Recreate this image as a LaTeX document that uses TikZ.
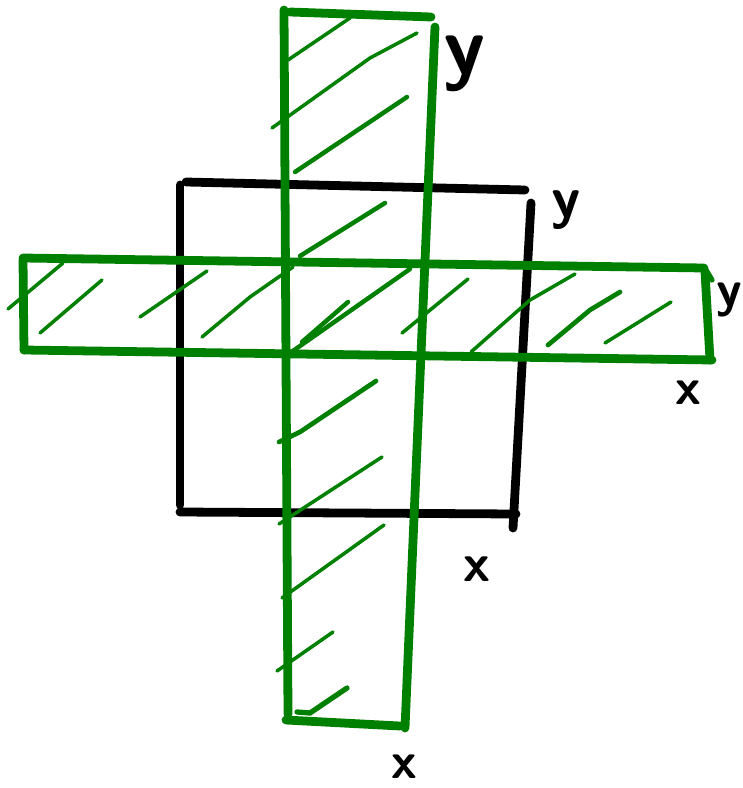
\documentclass[tikz,border=0pt]{standalone}
\definecolor{verde}{RGB}{0,128,0}
\tikzset{
  borde/.style={line width=7.5pt,line cap=round,line join=round},
  rayado/.style={verde,line width=3pt,line cap=round},
  letra/.style={font=\sffamily\bfseries\fontsize{#1}{#1}\selectfont,inner sep=0pt}
}
\begin{document}
\begin{tikzpicture}[x=0.03cm,y=-0.03cm]

	\useasboundingbox (0,0) rectangle (742,788);

	% Cuadrado negro
	\draw[borde] (186,182) -- (525,190);
	\draw[borde] (180,185) -- (180,505);
	\draw[borde] (180,512) -- (516,514);
	\draw[borde] (531,203) -- (513,528);

	% Franja vertical
	\draw[borde,verde] (284,10) -- (288,714);
	\draw[borde,verde] (290,12) -- (431,17);
	\draw[borde,verde] (435,27) -- (405,728);
	\draw[borde,verde] (286,720) -- (400,726);

	% Franja horizontal
	\draw[borde,verde] (23,258) -- (704,268);
	\draw[borde,verde] (23,260) -- (24,350);
	\draw[borde,verde] (24,350) -- (712,360);
	\draw[borde,verde] (705,272) -- (710,360);
	\draw[rayado,line width=4.5pt] (706,270) -- (712,280);

	% Rayado de la franja vertical
	\draw[rayado] (288,60) -- (350,18);
	\draw[rayado] (272,128) -- (370,58) -- (417,33);
	\draw[rayado,line width=3.8pt] (295,172) -- (407,97);
	\draw[rayado,line width=3.8pt] (300,256) -- (385,203);
	\draw[rayado,line width=4pt] (279,442) -- (300,432) -- (376,381);
	\draw[rayado] (279,524) -- (382,457);
	\draw[rayado] (282,598) -- (384,525);
	\draw[rayado] (277,671) -- (333,632);
	\draw[rayado,line width=4.5pt] (297,712) -- (310,713) -- (347,688);

	% Rayado de la franja horizontal
	\draw[rayado] (8,309) -- (63,263);
	\draw[rayado] (40,333) -- (102,280);
	\draw[rayado] (140,317) -- (207,271);
	\draw[rayado] (202,337) -- (250,297) -- (293,267);
	\draw[rayado,line width=3.8pt] (302,342) -- (348,302);
	\draw[rayado,line width=3.8pt] (290,353) -- (410,269);
	\draw[rayado] (402,333) -- (468,279);
	\draw[rayado] (471,352) -- (530,300) -- (575,274);
	\draw[rayado,line width=4pt] (548,345) -- (590,310) -- (620,292);
	\draw[rayado] (605,343) -- (671,302);

	% Letras
	\node[letra=72] (yArriba) at (465,64) {y};
	\node[letra=50] (yCuadro) at (566,210) {y};
	\node[letra=44] (yDerecha) at (729,300) {y};
	\node[letra=44] (xDerecha) at (688,393) {x};
	\node[letra=46] (xCuadro) at (477,569) {x};
	\node[letra=44] (xAbajo) at (404,767) {x};

\end{tikzpicture}
\end{document}
